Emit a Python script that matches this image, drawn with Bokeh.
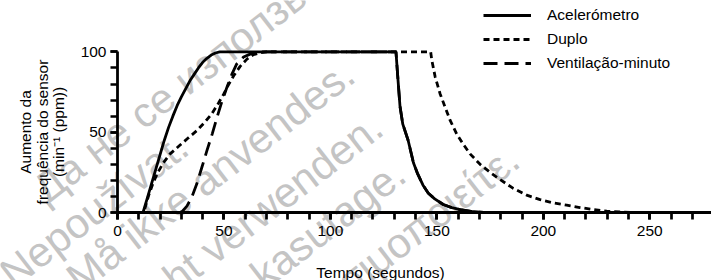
import math
from bokeh.plotting import figure
from bokeh.models import Range1d, FixedTicker, Legend, LegendItem, Label
from bokeh.embed import file_html
from bokeh.resources import INLINE

# ---------------- data ----------------
# Acelerómetro (solid)
acc_rise_t = [0, 12, 14, 16, 18, 20, 22, 24, 26, 28, 30, 32, 34, 36, 38, 40, 42, 44, 46, 48]
acc_rise_v = [0, 0, 9, 18, 27, 36, 45, 53, 60, 66.5, 72, 77, 82, 86, 90, 93.5, 96, 98, 99.3, 100]
acc_fall_t = [130.8, 131.5, 132.7, 134, 136.5, 139, 141, 143.5, 146, 149, 153, 157, 161, 166, 172, 279]
acc_fall_v = [100, 87, 66, 55, 45, 31, 24, 17, 12, 8.5, 5, 3, 1.8, 0.7, 0, 0]

# Duplo (dotted)
dup_rise_t = [0, 12.3, 14.6, 16.9, 19.2, 21.6, 24.7, 29.4, 33.3, 37.3, 41.2, 44.3, 47.4, 49.8,
              52.1, 54.5, 57.6, 60.8, 63.9, 67, 70]
dup_rise_v = [0, 0, 10.5, 19, 25.5, 31, 36.5, 42, 46.5, 51, 56.5, 61.5, 68, 73.5,
              79.5, 85, 91, 95.5, 98.3, 99.5, 100]
dup_fall_t = [147.1, 147.6, 149.2, 151.5, 153.9, 156.2, 159.3, 162.4, 165.6, 170.3, 175, 179.7,
              185.9, 192.2, 198.5, 204.7, 211, 217.2, 223.5, 229.8, 236, 245, 279]
dup_fall_v = [100, 95, 84.5, 74, 65.5, 57.5, 49, 42.5, 36.5, 30, 25, 20.5,
              15, 10.8, 8, 6, 4.6, 3.1, 1.8, 0.8, 0.3, 0, 0]

# Ventilação-minuto (dashed) - its fall coincides with the accelerometer fall
ven_rise_t = [0, 29.4, 30.5, 32.6, 34.9, 37.3, 39.6, 42, 44.5, 46.7, 49, 51.4, 53.7, 56,
              59.2, 62.3, 65.4, 68]
ven_rise_v = [0, 0, 0.8, 4, 9.5, 18, 28, 38.5, 49, 59, 69, 78, 86, 92.5,
              96.8, 98.6, 99.4, 100]

series_names = ["Acelerómetro", "Duplo", "Ventilação-minuto"]

x_major_ticks = [0, 50, 100, 150, 200, 250]
x_minor_ticks = list(range(0, 280, 10))
y_major_ticks = [0, 50, 100]
y_minor_ticks = list(range(0, 101, 10))

x_title = "Tempo (segundos)"
y_title_lines = ["Aumento da", "frequência do sensor", "(min\u207b\u00b9 (ppm))"]

# watermark (background text)
wm_texts = ["Да не се използва.", "Nepoužívat.", "Må ikke anvendes.",
            "Nicht verwenden.", "Ärge kasutage.", "Μην τη χρησιμοποιείτε."]

# ---------------- styling ----------------
FONT = "Liberation Sans"
LW = 2.8
W, H = 711, 280

# background figure: carries the free texts (watermark, axis titles) over the whole canvas
bg = figure(width=W, height=H, output_backend="svg", toolbar_location=None,
            x_range=Range1d(0, W), y_range=Range1d(0, H),
            x_axis_location=None, y_axis_location=None,
            min_border_left=0, min_border_right=0, min_border_top=0, min_border_bottom=0)
bg.outline_line_color = None
bg.grid.visible = False
bg.background_fill_color = "white"
bg.border_fill_color = "white"

ang = 0.658
ca, sa = math.cos(ang), math.sin(ang)
wm_u = [-88, -166, -116, 224, 213.6, 312.5]
wm_n = [176, 222.5, 267, 326, 377, 435]
wm_align = ["left", "left", "left", "right", "right", "right"]
for txt, u, n, al in zip(wm_texts, wm_u, wm_n, wm_align):
    px = u * ca + n * sa
    py = -u * sa + n * ca
    bg.add_layout(Label(x=px, y=H - py, x_units="screen", y_units="screen",
                        text=txt, angle=ang, text_align=al, text_baseline="alphabetic",
                        text_font=FONT, text_font_size="42px", text_color="#c4c4c4"))

# axis titles
for txt, xc in zip(y_title_lines, [25, 41.7, 58.3]):
    bg.add_layout(Label(x=xc, y=H - 131.5, x_units="screen", y_units="screen", text=txt,
                        angle=math.pi / 2, text_align="center", text_baseline="middle",
                        text_font=FONT, text_font_size="15.5px", text_color="black"))
bg.add_layout(Label(x=380, y=H - 272, x_units="screen", y_units="screen", text=x_title,
                    text_align="center", text_baseline="alphabetic", text_font=FONT,
                    text_font_size="15.5px", text_color="black"))

# main chart figure (transparent, drawn on top of the background figure)
p = figure(width=W, height=H, output_backend="svg", toolbar_location=None,
           x_range=Range1d(0, 279), y_range=Range1d(0, 132),
           min_border_left=117, min_border_right=0, min_border_top=0, min_border_bottom=68)
p.outline_line_color = None
p.grid.visible = False
p.background_fill_alpha = 0
p.border_fill_alpha = 0
p.styles = {"position": "absolute", "left": "0px", "top": "0px"}

for ax in (p.xaxis[0], p.yaxis[0]):
    ax.axis_line_width = LW
    ax.axis_line_color = "black"
    ax.major_tick_line_width = 2.7
    ax.minor_tick_line_width = 2.7
    ax.major_tick_line_color = "black"
    ax.minor_tick_line_color = "black"
    ax.major_tick_in = 0
    ax.major_tick_out = 7
    ax.minor_tick_in = 0
    ax.minor_tick_out = 7
    ax.major_label_text_font = FONT
    ax.major_label_text_font_size = "15.5px"
    ax.major_label_text_color = "black"

xa = p.xaxis[0]
xa.ticker = FixedTicker(ticks=x_major_ticks, minor_ticks=x_minor_ticks)
xa.major_label_standoff = 6

ya = p.yaxis[0]
ya.ticker = FixedTicker(ticks=y_major_ticks, minor_ticks=y_minor_ticks)
ya.bounds = (0, 100)
ya.major_label_standoff = 4

r_ven = p.line(ven_rise_t + acc_fall_t, ven_rise_v + acc_fall_v, line_width=LW,
               line_color="black", line_dash="14 7")
r_dup = p.line(dup_rise_t + dup_fall_t, dup_rise_v + dup_fall_v, line_width=LW,
               line_color="black", line_dash="6 4")
r_acc = p.line(acc_rise_t + acc_fall_t, acc_rise_v + acc_fall_v, line_width=LW,
               line_color="black")

legend = Legend(items=[LegendItem(label=series_names[0], renderers=[r_acc]),
                       LegendItem(label=series_names[1], renderers=[r_dup]),
                       LegendItem(label=series_names[2], renderers=[r_ven])],
                location=(366, 140), padding=0, margin=0, spacing=6,
                label_height=18, glyph_height=18, glyph_width=48, label_standoff=16,
                label_text_font=FONT, label_text_font_size="15.5px", label_text_color="black",
                border_line_color=None, background_fill_alpha=0)
p.add_layout(legend)

# two independent roots: the background page first, the chart positioned on top of it
open("out.html", "w").write(file_html([bg, p], INLINE))
